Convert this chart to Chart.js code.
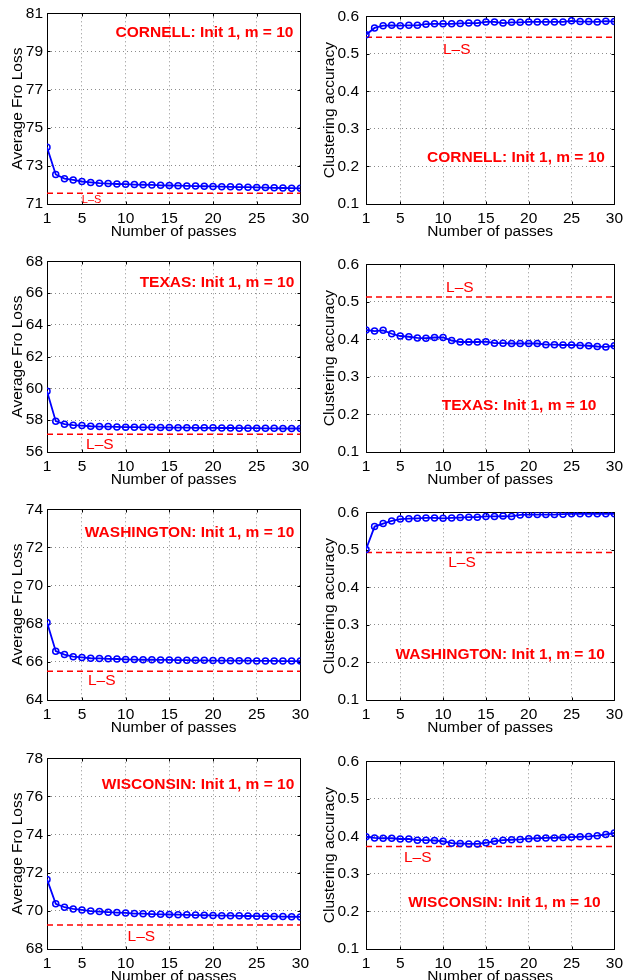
<!DOCTYPE html>
<html>
<head>
<meta charset="utf-8">
<script src="https://cdn.jsdelivr.net/npm/chart.js@4/dist/chart.umd.min.js"></script>
<style>
  html, body { margin: 0; padding: 0; background: #fff; width: 628px; height: 980px; overflow: hidden; }
  .panel { position: absolute; }
</style>
</head>
<body>
<div class="panel" style="left:0px;top:0px"><canvas id="c1" width="314" height="240"></canvas></div>
<div class="panel" style="left:314px;top:0px"><canvas id="c2" width="314" height="240"></canvas></div>
<div class="panel" style="left:0px;top:248px"><canvas id="c3" width="314" height="240"></canvas></div>
<div class="panel" style="left:314px;top:248px"><canvas id="c4" width="314" height="240"></canvas></div>
<div class="panel" style="left:0px;top:496px"><canvas id="c5" width="314" height="240"></canvas></div>
<div class="panel" style="left:314px;top:496px"><canvas id="c6" width="314" height="240"></canvas></div>
<div class="panel" style="left:0px;top:745px"><canvas id="c7" width="314" height="240"></canvas></div>
<div class="panel" style="left:314px;top:745px"><canvas id="c8" width="314" height="240"></canvas></div>
<script>
// ---------------- DATA ----------------
const passes = [1,2,3,4,5,6,7,8,9,10,11,12,13,14,15,16,17,18,19,20,21,22,23,24,25,26,27,28,29,30];
const passTicks = [1,5,10,15,20,25,30];

const cornellLoss = [73.97,72.55,72.33,72.26,72.18,72.13,72.09,72.07,72.05,72.04,72.02,72.01,72.00,71.98,71.97,71.96,71.95,71.94,71.93,71.92,71.91,71.90,71.89,71.88,71.87,71.86,71.85,71.84,71.83,71.82];
const cornellLossLS = 71.57;
const cornellAcc = [0.551,0.569,0.575,0.576,0.575,0.576,0.576,0.579,0.580,0.580,0.580,0.581,0.582,0.582,0.585,0.585,0.582,0.584,0.584,0.585,0.585,0.585,0.585,0.585,0.588,0.586,0.586,0.585,0.587,0.586];
const cornellAccLS = 0.544;

const texasLoss = [59.82,57.94,57.75,57.69,57.66,57.62,57.60,57.60,57.58,57.56,57.56,57.55,57.55,57.54,57.54,57.53,57.53,57.52,57.52,57.52,57.51,57.51,57.50,57.50,57.50,57.49,57.49,57.48,57.48,57.48];
const texasLossLS = 57.12;
const texasAcc = [0.425,0.422,0.424,0.415,0.409,0.407,0.404,0.403,0.405,0.405,0.397,0.393,0.393,0.393,0.394,0.390,0.390,0.389,0.389,0.389,0.389,0.386,0.386,0.385,0.385,0.384,0.383,0.381,0.380,0.383];
const texasAccLS = 0.513;

const washLoss = [68.07,66.56,66.38,66.27,66.23,66.19,66.18,66.16,66.15,66.13,66.12,66.11,66.11,66.10,66.10,66.09,66.09,66.08,66.08,66.07,66.07,66.06,66.06,66.06,66.05,66.05,66.05,66.04,66.04,66.04];
const washLossLS = 65.51;
const washAcc = [0.501,0.562,0.570,0.577,0.582,0.583,0.584,0.585,0.585,0.584,0.585,0.586,0.587,0.587,0.589,0.589,0.590,0.589,0.593,0.594,0.594,0.594,0.594,0.595,0.596,0.596,0.596,0.596,0.596,0.596];
const washAccLS = 0.493;

const wiscLoss = [71.65,70.37,70.19,70.10,70.05,69.99,69.96,69.93,69.91,69.89,69.86,69.85,69.83,69.82,69.81,69.80,69.79,69.78,69.77,69.76,69.75,69.75,69.74,69.73,69.72,69.72,69.71,69.70,69.69,69.68];
const wiscLossLS = 69.26;
const wiscAcc = [0.399,0.396,0.395,0.395,0.393,0.393,0.390,0.390,0.389,0.387,0.382,0.381,0.380,0.380,0.383,0.387,0.390,0.391,0.392,0.394,0.395,0.396,0.396,0.397,0.398,0.399,0.400,0.402,0.405,0.409];
const wiscAccLS = 0.373;

const cornellLossTicks = [71,73,75,77,79,81];
const texasLossTicks = [56,58,60,62,64,66,68];
const washLossTicks = [64,66,68,70,72,74];
const wiscLossTicks = [68,70,72,74,76,78];
const accTicks = [0.1,0.2,0.3,0.4,0.5,0.6];

const xTitle = 'Number of passes';
const lossTitle = 'Average Fro Loss';
const accTitle = 'Clustering accuracy';
const lsLabel = 'L\u2013S';

// ---------------- DRAWING ----------------
const FONT = '"Liberation Sans", Arial, Helvetica, sans-serif';

const decoPlugin = {
  id: 'deco',
  beforeDatasetsDraw(chart) {
    const {ctx, chartArea: a, scales: {x, y}} = chart;
    ctx.save();
    ctx.strokeStyle = '#000';
    ctx.lineWidth = 1;
    ctx.setLineDash([]);
    const L = Math.round(a.left) + 0.5, R = Math.round(a.right) + 0.5;
    const T = Math.round(a.top) + 0.5, B = Math.round(a.bottom) + 0.5;
    ctx.beginPath();
    ctx.rect(L, T, R - L, B - T);
    x.ticks.forEach(t => {
      const px = Math.round(x.getPixelForValue(t.value)) + 0.5;
      ctx.moveTo(px, B); ctx.lineTo(px, B - 3);
      ctx.moveTo(px, T); ctx.lineTo(px, T + 3);
    });
    y.ticks.forEach(t => {
      const py = Math.round(y.getPixelForValue(t.value)) + 0.5;
      ctx.moveTo(L, py); ctx.lineTo(L + 3, py);
      ctx.moveTo(R, py); ctx.lineTo(R - 3, py);
    });
    ctx.stroke();
    ctx.restore();
  },
  afterDatasetsDraw(chart, args, opts) {
    const {ctx, scales: {x, y}} = chart;
    ctx.save();
    ctx.fillStyle = '#ff0000';
    ctx.textBaseline = 'middle';
    ctx.font = 'bold 15.5px ' + FONT;
    ctx.textAlign = 'right';
    ctx.fillText(opts.label, x.getPixelForValue(opts.labelX), y.getPixelForValue(opts.labelY));
    ctx.font = (opts.lsSize || 15.5) + 'px ' + FONT;
    ctx.textAlign = 'center';
    ctx.fillText(lsLabel, x.getPixelForValue(opts.lsX), y.getPixelForValue(opts.lsY));
    ctx.restore();
  }
};

function makePanel(id, cfg) {
  const right = cfg.col === 1;
  const yWidth = right ? 52 : 47;
  new Chart(document.getElementById(id), {
    type: 'line',
    data: {
      datasets: [
        {
          data: passes.map((p, i) => ({x: p, y: cfg.values[i]})),
          borderColor: '#0000ff',
          borderWidth: 1.8,
          pointStyle: 'circle',
          pointRadius: 3,
          pointBorderWidth: 1.5,
          pointBorderColor: '#0000ff',
          pointBackgroundColor: 'rgba(255,255,255,0)',
          tension: 0,
          fill: false,
          order: 1
        },
        {
          data: [{x: passes[0], y: cfg.ls}, {x: passes[passes.length - 1], y: cfg.ls}],
          borderColor: '#ff0000',
          borderWidth: 1.5,
          borderDash: [6, 4],
          pointRadius: 0,
          fill: false,
          order: 2
        }
      ]
    },
    options: {
      responsive: false,
      animation: false,
      devicePixelRatio: 1,
      layout: { padding: { top: 13, right: right ? 11 : 12, left: 0, bottom: 0 } },
      plugins: {
        legend: { display: false },
        tooltip: { enabled: false },
        deco: cfg.deco
      },
      scales: {
        x: {
          type: 'linear',
          min: 1, max: 30,
          afterBuildTicks: s => { s.ticks = passTicks.map(v => ({value: v})); },
          afterFit: s => { s.height = 36; },
          ticks: { color: '#000', font: { family: FONT, size: 15.5 }, padding: 5, maxRotation: 0, autoSkip: false },
          grid: { color: 'rgba(0,0,0,0.45)', lineWidth: 1, drawTicks: false },
          border: { display: false, dash: [1, 3] },
          title: { display: true, text: xTitle, color: '#000', font: { family: FONT, size: 15.5 }, padding: { top: 0, bottom: -1 } }
        },
        y: {
          type: 'linear',
          min: cfg.ticks[0], max: cfg.ticks[cfg.ticks.length - 1],
          afterBuildTicks: s => { s.ticks = cfg.ticks.map(v => ({value: v})); },
          afterFit: s => { s.width = yWidth; },
          ticks: { color: '#000', font: { family: FONT, size: 15.5 }, padding: right ? 7 : 4,
                   callback: v => cfg.isAcc ? v.toFixed(1) : String(v) },
          grid: { color: 'rgba(0,0,0,0.45)', lineWidth: 1, drawTicks: false },
          border: { display: false, dash: [1, 3] },
          title: { display: true, text: cfg.isAcc ? accTitle : lossTitle, color: '#000', font: { family: FONT, size: 15.5 }, padding: { top: right ? 6 : 8, bottom: 0 } }
        }
      }
    },
    plugins: [decoPlugin]
  });
}

makePanel('c1', { col: 0, values: cornellLoss, ls: cornellLossLS, ticks: cornellLossTicks, isAcc: false,
  deco: { label: 'CORNELL: Init 1, m = 10', labelX: 29.2, labelY: 80.0, lsX: 6.1, lsY: 71.22, lsSize: 11 } });
makePanel('c2', { col: 1, values: cornellAcc, ls: cornellAccLS, ticks: accTicks, isAcc: true,
  deco: { label: 'CORNELL: Init 1, m = 10', labelX: 28.9, labelY: 0.224, lsX: 11.6, lsY: 0.512 } });
makePanel('c3', { col: 0, values: texasLoss, ls: texasLossLS, ticks: texasLossTicks, isAcc: false,
  deco: { label: 'TEXAS: Init 1, m = 10', labelX: 29.3, labelY: 66.66, lsX: 7.05, lsY: 56.43 } });
makePanel('c4', { col: 1, values: texasAcc, ls: texasAccLS, ticks: accTicks, isAcc: true,
  deco: { label: 'TEXAS: Init 1, m = 10', labelX: 27.9, labelY: 0.223, lsX: 11.96, lsY: 0.537 } });
makePanel('c5', { col: 0, values: washLoss, ls: washLossLS, ticks: washLossTicks, isAcc: false,
  deco: { label: 'WASHINGTON: Init 1, m = 10', labelX: 29.3, labelY: 72.75, lsX: 7.26, lsY: 65.0 } });
makePanel('c6', { col: 1, values: washAcc, ls: washAccLS, ticks: accTicks, isAcc: true,
  deco: { label: 'WASHINGTON: Init 1, m = 10', labelX: 28.9, labelY: 0.2204, lsX: 12.2, lsY: 0.4665 } });
makePanel('c7', { col: 0, values: wiscLoss, ls: wiscLossLS, ticks: wiscLossTicks, isAcc: false,
  deco: { label: 'WISCONSIN: Init 1, m = 10', labelX: 29.3, labelY: 76.63, lsX: 11.8, lsY: 68.67 } });
makePanel('c8', { col: 1, values: wiscAcc, ls: wiscAccLS, ticks: accTicks, isAcc: true,
  deco: { label: 'WISCONSIN: Init 1, m = 10', labelX: 28.4, labelY: 0.2224, lsX: 7.04, lsY: 0.343 } });
</script>
</body>
</html>
